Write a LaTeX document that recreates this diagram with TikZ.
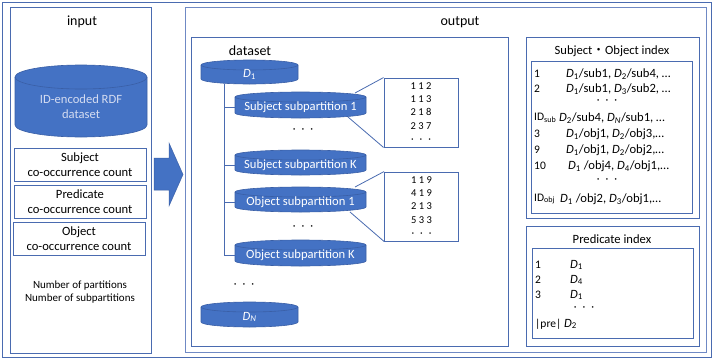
\documentclass[tikz,border=0pt]{standalone}
\usepackage{fontspec}
\setmainfont{Carlito}
\newfontfamily\cjkfont{Noto Sans CJK JP}
\usetikzlibrary{calc}

\definecolor{accent}{HTML}{4472C4}
\definecolor{accentdark}{HTML}{3A5FA6}
\definecolor{boxline}{HTML}{4A6BB0}
\definecolor{outline}{HTML}{6F89C4}
\definecolor{drumtext}{HTML}{D4DCF1}

\tikzset{
  panel/.style={draw=boxline, line width=1pt},
  lightpanel/.style={draw=outline, line width=1pt},
  countbox/.style={draw=boxline, line width=1pt, minimum width=132, minimum height=33,
    align=center, inner sep=0, font=\fontsize{12.6}{15}\selectfont},
  valbox/.style={draw=boxline, line width=0.9pt, minimum width=74, minimum height=69,
    align=center, inner sep=0, font=\fontsize{10.5}{13.4}\selectfont},
  drumbody/.style={fill=accent, draw=accentdark, line width=0.6pt},
  drumrim/.style={draw=accentdark, line width=0.6pt},
  drumlabel/.style={align=center, inner sep=0, minimum height=12,
    font=\fontsize{12.6}{15}\selectfont},
  link/.style={draw=boxline, line width=0.8pt},
  title/.style={inner sep=0, font=\fontsize{14}{16}\selectfont},
  idxtitle/.style={inner sep=0, font=\fontsize{12.6}{15}\selectfont},
  idxrow/.style={anchor=west, inner sep=0, font=\fontsize{12.6}{15}\selectfont},
  idxnum/.style={anchor=west, inner sep=0, font=\fontsize{11.5}{14}\selectfont},
  dots/.style={inner sep=0, font=\fontsize{11}{12}\selectfont},
}

% drum: name, centre x, top rim y, bottom rim y, half width, rim half height, text colour, label
\newcommand\drum[8]{%
  \filldraw[drumbody] (#2-#5,#3) -- (#2-#5,#4)
    arc[start angle=180,end angle=360,x radius=#5pt,y radius=#6pt]
    -- (#2+#5,#3)
    arc[start angle=0,end angle=180,x radius=#5pt,y radius=#6pt] -- cycle;
  \draw[drumrim] (#2-#5,#3) arc[start angle=180,end angle=360,x radius=#5pt,y radius=#6pt];
  \node[drumlabel, text=#7, minimum width={2*#5}] (#1) at (#2,{(#3+#4+#6)/2}) {#8};
}
\newcommand\dsub[1]{\textit{D}\textsubscript{#1}}
\newcommand\threedots{·\hspace{6pt}·\hspace{6pt}·}

\begin{document}
\begin{tikzpicture}[x=1pt, y=-1pt]
\useasboundingbox (0,0) rectangle (713,359);

% outer frame
\draw[panel] (2,2) rectangle (711,357);

% ---------------- input column ----------------
\draw[panel] (10,7) rectangle (151,353);
\node[title] (inlabel) at (82,22) {input};
\drum{rdf}{81}{77}{125}{66}{12}{drumtext}{ID-encoded RDF\\dataset}
\node[countbox] (subjcnt) at (80,164.5) {Subject\\co-occurrence count};
\node[countbox] (predcnt) at (80,201.5) {Predicate\\co-occurrence count};
\node[countbox] (objcnt) at (79,238.5) {Object\\co-occurrence count};
\node[align=center, inner sep=0, font=\fontsize{11}{13.3}\selectfont] (parts) at (80,292)
  {Number of partitions\\Number of subpartitions};

% block arrow between the columns
\filldraw[fill=accent, draw=accentdark, line width=0.5pt]
  (154,158) -- (169,158) -- (169,143) -- (183,174.5) -- (169,206) -- (169,190) -- (154,190) -- cycle;

% ---------------- output column ----------------
\draw[lightpanel] (185,7) rectangle (706,352);
\node[title] (outlabel) at (460,22) {output};

% dataset panel
\draw[panel] (191,37) rectangle (508,346);
\node[title] (dslabel) at (250,51) {dataset};

\drum{d1}{249.5}{65}{79}{48.5}{5}{white}{\textit{D}\textsubscript{1}}
\drum{ss1}{300.5}{97}{113}{65.5}{5}{white}{Subject subpartition 1}
\drum{ssk}{300.5}{155}{170}{65.5}{5}{white}{Subject subpartition K}
\drum{os1}{300.5}{192}{207}{65.5}{5}{white}{Object subpartition 1}
\drum{osk}{300.5}{245}{261}{65.5}{5}{white}{Object subpartition K}
\drum{dn}{249.5}{307}{322}{48.5}{5}{white}{\textit{D}\textsubscript{\textit{N}}}

\node[dots] (dotsa) at (303,131) {\threedots};
\node[dots] (dotsb) at (303,228) {\threedots};
\node[dots] (dotsc) at (244,286) {\threedots};

% tree of subpartitions below D1
\coordinate (spine) at (224,84);
\draw[link] (spine) |- (osk.west);
\draw[link] (spine |- ss1.west) -- (ss1.west);
\draw[link] (spine |- ssk.west) -- (ssk.west);
\draw[link] (spine |- os1.west) -- (os1.west);

% contents of subpartitions
\node[valbox] (vals1) at (421,112.5) {1 1 2\\1 1 3\\2 1 8\\2 3 7\\\threedots};
\node[valbox] (vals2) at (421.5,206.5) {1 1 9\\4 1 9\\2 1 3\\5 3 3\\\threedots};
\coordinate (ss1top) at (355,93);
\coordinate (ss1bot) at (348,117);
\coordinate (os1top) at (355,187);
\coordinate (os1bot) at (350,212);
\draw[link] (ss1top) -- (vals1.north west);
\draw[link] (ss1bot) -- (vals1.south west);
\draw[link] (os1top) -- (vals2.north west);
\draw[link] (os1bot) -- (vals2.south west);

% subject / object index
\draw[panel] (526,37) rectangle (699,218);
\node[idxtitle] (sotitle) at (612,51) {Subject{\cjkfont ・}Object index};
\draw[panel] (531,61) rectangle (692,213);
\node[idxnum] (n1) at (534,74) {1};
\node[idxrow] (e1) at (566,74) {\dsub{1}/sub1, \dsub{2}/sub4, …};
\node[idxnum] (n2) at (534,89) {2};
\node[idxrow] (e2) at (566,89) {\dsub{1}/sub1, \dsub{3}/sub2, …};
\node[dots] (sodots1) at (607,102) {\threedots};
\node[idxnum] (nsub) at (534,118) {ID\textsubscript{sub}};
\node[idxrow] (esub) at (559,118) {\dsub{2}/sub4, \dsub{\textit{N}}/sub1, …};
\node[idxnum] (n3) at (534,134) {3};
\node[idxrow] (e3) at (566,134) {\dsub{1}/obj1, \dsub{2}/obj3,…};
\node[idxnum] (n9) at (534,150) {9};
\node[idxrow] (e9) at (566,150) {\dsub{1}/obj1, \dsub{2}/obj2,…};
\node[idxnum] (n10) at (534,166) {10};
\node[idxrow] (e10) at (568,166) {\dsub{1} /obj4, \dsub{4}/obj1,…};
\node[dots] (sodots2) at (607,181) {\threedots};
\node[idxnum] (nobj) at (534,199) {ID\textsubscript{obj}};
\node[idxrow] (eobj) at (560,199) {\dsub{1} /obj2, \dsub{3}/obj1,…};

% predicate index
\draw[panel] (526,226) rectangle (699,346);
\node[idxtitle] (prtitle) at (612,239) {Predicate index};
\draw[panel] (532,248) rectangle (693,338);
\node[idxnum] (p1) at (535,265) {1};
\node[idxrow] (q1) at (570,265) {\dsub{1}};
\node[idxnum] (p2) at (535,280) {2};
\node[idxrow] (q2) at (570,280) {\dsub{4}};
\node[idxnum] (p3) at (535,295) {3};
\node[idxrow] (q3) at (570,295) {\dsub{1}};
\node[dots] (prdots) at (584,309) {\threedots};
\node[idxnum] (pn) at (535,324) {|pre|};
\node[idxrow] (qn) at (564,324) {\dsub{2}};
\end{tikzpicture}
\end{document}
